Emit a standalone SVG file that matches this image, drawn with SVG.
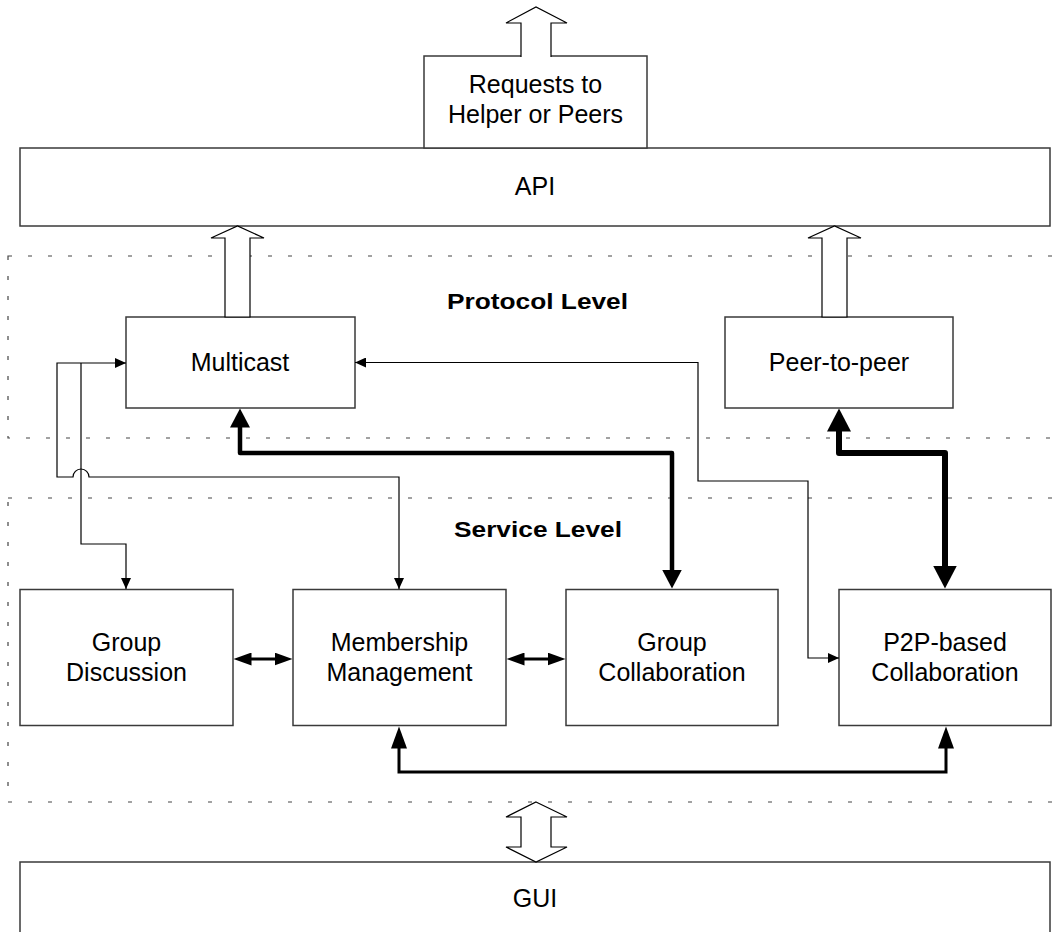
<svg xmlns="http://www.w3.org/2000/svg" width="1054" height="932" viewBox="0 0 1054 932">
<style>
.box{fill:#fff;stroke:#3a3a3a;stroke-width:1.5}
.region{fill:none;stroke:#444;stroke-width:1.2;stroke-dasharray:4 16}
.lbl{font-family:"Liberation Sans",Arial,sans-serif;font-size:25px;fill:#000;text-anchor:middle}
.hdr{font-family:"Liberation Sans",Arial,sans-serif;font-size:22px;font-weight:bold;fill:#000;text-anchor:middle}
.hollow{fill:#fff;stroke:#000;stroke-width:1.2}
.thin{fill:none;stroke:#000;stroke-width:1.2}
.med{fill:none;stroke:#000;stroke-width:3}
.thick4{fill:none;stroke:#000;stroke-width:4.5;stroke-linejoin:round}
.thick6{fill:none;stroke:#000;stroke-width:6;stroke-linejoin:round}
</style>
<defs>
<marker id="aThin" markerUnits="userSpaceOnUse" markerWidth="12" markerHeight="10" refX="11" refY="5" orient="auto-start-reverse"><path d="M0,0 L11,5 L0,10 z" fill="#000"/></marker>
<marker id="aMed" markerUnits="userSpaceOnUse" markerWidth="19" markerHeight="13" refX="0.5" refY="6.5" orient="auto-start-reverse"><path d="M0,0 L18,6.5 L0,13 z" fill="#000"/></marker>
<marker id="aLong" markerUnits="userSpaceOnUse" markerWidth="23" markerHeight="16" refX="0.5" refY="8" orient="auto-start-reverse"><path d="M0,0 L22,8 L0,16 z" fill="#000"/></marker>
<marker id="aThick4" markerUnits="userSpaceOnUse" markerWidth="20" markerHeight="20" refX="0.5" refY="10" orient="auto-start-reverse"><path d="M0,0 L19,10 L0,20 z" fill="#000"/></marker>
<marker id="aThick6" markerUnits="userSpaceOnUse" markerWidth="24" markerHeight="24" refX="0.5" refY="12" orient="auto-start-reverse"><path d="M0,0 L23,12 L0,24 z" fill="#000"/></marker>
</defs>
<rect width="1054" height="932" fill="#fff"/>

<g id="regions">
<rect class="region" x="8" y="256" width="1070" height="182"/>
<rect class="region" x="8" y="498" width="1070" height="304"/>
</g>

<g id="protocol-level-label"><text class="hdr" x="537.5" y="309" textLength="181" lengthAdjust="spacingAndGlyphs">Protocol Level</text></g>
<g id="service-level-label"><text class="hdr" x="538" y="537" textLength="168" lengthAdjust="spacingAndGlyphs">Service Level</text></g>

<g id="api"><rect class="box" x="20" y="148" width="1030" height="78"/><text class="lbl" x="535" y="195">API</text></g>

<g id="requests">
<rect class="box" x="424" y="56" width="223" height="92"/>
<path class="hollow" d="M521,57 V23 H506 L536,7 L567,23 H551 V57"/>
<text class="lbl" x="535.5" y="93">Requests to</text>
<text class="lbl" x="535.5" y="123">Helper or Peers</text>
</g>

<g id="multicast"><rect class="box" x="126" y="317" width="229" height="91"/><text class="lbl" x="240" y="371">Multicast</text></g>
<g id="peer-to-peer"><rect class="box" x="725" y="317" width="228" height="91"/><text class="lbl" x="839" y="371">Peer-to-peer</text></g>

<g id="group-discussion"><rect class="box" x="20" y="589.5" width="213" height="136"/><text class="lbl" x="126.5" y="651">Group</text><text class="lbl" x="126.5" y="681">Discussion</text></g>
<g id="membership-management"><rect class="box" x="293" y="589.5" width="213" height="136"/><text class="lbl" x="399.5" y="651">Membership</text><text class="lbl" x="399.5" y="681">Management</text></g>
<g id="group-collaboration"><rect class="box" x="566" y="589.5" width="212" height="136"/><text class="lbl" x="672" y="651">Group</text><text class="lbl" x="672" y="681">Collaboration</text></g>
<g id="p2p-collaboration"><rect class="box" x="839" y="589.5" width="212" height="136"/><text class="lbl" x="945" y="651">P2P-based</text><text class="lbl" x="945" y="681">Collaboration</text></g>

<g id="gui"><rect class="box" x="20" y="862" width="1030" height="90"/><text class="lbl" x="535" y="907">GUI</text></g>

<g id="connectors">
<polygon class="hollow" points="225,317 225,238 211,238 237.5,226 264,238 250,238 250,317"/>
<polygon class="hollow" points="822,317 822,238 808,238 834.5,226 861,238 847,238 847,317"/>
<polygon class="hollow" points="536,802 567,817 551,817 551,847 567,847 536,862 506,847 521,847 521,817 506,817"/>
<path class="thick4" d="M240,427 V453 H672 V570" marker-start="url(#aThick4)" marker-end="url(#aThick4)"/>
<path class="thick6" d="M839,431 V453 H945 V566" marker-start="url(#aThick6)" marker-end="url(#aThick6)"/>
<path class="med" d="M399,748 V772 H946 V748" marker-start="url(#aLong)" marker-end="url(#aLong)"/>
<path class="med" d="M251,659 H275" marker-start="url(#aMed)" marker-end="url(#aMed)"/>
<path class="med" d="M524,659 H548" marker-start="url(#aMed)" marker-end="url(#aMed)"/>
<path class="thin" d="M355,362.5 H698 V481 H808 V658 H839" marker-start="url(#aThin)" marker-end="url(#aThin)"/>
<path class="thin" d="M126,363 H57 V477 H73 A8,8 0 0 1 89,477 H399 V589" marker-start="url(#aThin)" marker-end="url(#aThin)"/>
<path class="thin" d="M81,363 V544 H126 V589" marker-end="url(#aThin)"/>
</g>
</svg>
